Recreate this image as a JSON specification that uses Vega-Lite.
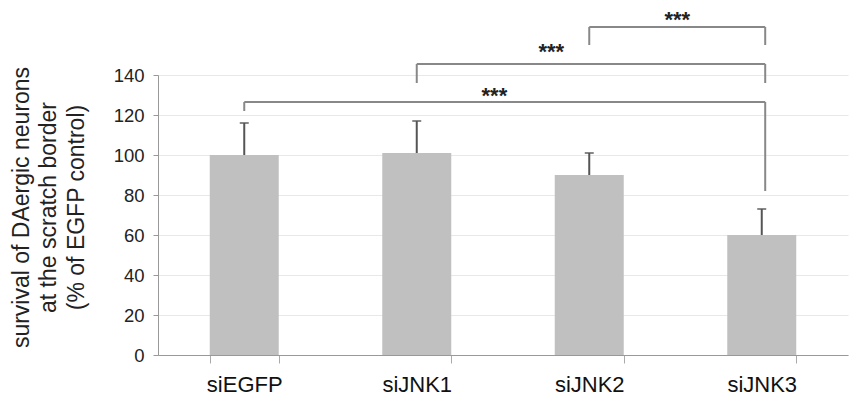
{
  "$schema": "https://vega.github.io/schema/vega-lite/v6.json",
  "width": 690,
  "height": 280,
  "autosize": {"type": "none"},
  "padding": {"left": 158, "top": 75, "right": 1, "bottom": 45},
  "background": "white",
  "config": {"view": {"stroke": null}, "font": "Liberation Sans"},
  "datasets": {
    "bars": [
      {"group": "siEGFP", "value": 100, "upper": 116},
      {"group": "siJNK1", "value": 101, "upper": 117},
      {"group": "siJNK2", "value": 90, "upper": 101},
      {"group": "siJNK3", "value": 60, "upper": 73}
    ],
    "segs": [
      {"x1": 0.5, "x2": 3.52, "y1": 126.5, "y2": 126.5},
      {"x1": 0.5, "x2": 0.5, "y1": 126.5, "y2": 122},
      {"x1": 3.52, "x2": 3.52, "y1": 126.5, "y2": 82},
      {"x1": 1.5, "x2": 3.52, "y1": 145.5, "y2": 145.5},
      {"x1": 1.5, "x2": 1.5, "y1": 145.5, "y2": 136},
      {"x1": 3.52, "x2": 3.52, "y1": 145.5, "y2": 136},
      {"x1": 2.5, "x2": 3.52, "y1": 164, "y2": 164},
      {"x1": 2.5, "x2": 2.5, "y1": 164, "y2": 155},
      {"x1": 3.52, "x2": 3.52, "y1": 164, "y2": 155}
    ],
    "stars": [
      {"x": 1.95, "y": 132, "label": "***"},
      {"x": 2.28, "y": 154, "label": "***"},
      {"x": 3.01, "y": 170, "label": "***"}
    ]
  },
  "encoding": {
    "y": {
      "type": "quantitative",
      "scale": {"domain": [0, 140], "nice": false},
      "axis": {
        "values": [0, 20, 40, 60, 80, 100, 120, 140],
        "tickCount": 10,
        "labelOverlap": false,
        "title": ["survival of DAergic neurons", "at the scratch border", "(% of EGFP control)"],
        "titleFontSize": 23, "titleLineHeight": 27.5, "titleFontWeight": "normal",
        "titleColor": "#222", "titleX": -137, "titleY": 132, "titleAlign": "center",
        "titleBaseline": "middle", "titleAngle": -90,
        "labelFontSize": 18.5, "labelColor": "#222", "labelPadding": 9,
        "tickSize": 5, "tickColor": "#999", "domainColor": "#999",
        "gridColor": "#e8e8e8"
      }
    }
  },
  "layer": [
    {
      "layer": [
        {
          "data": {"name": "bars"},
          "mark": {"type": "bar", "color": "#c0c0c0"},
          "encoding": {
            "x": {
              "field": "group", "type": "nominal", "sort": null,
              "scale": {"paddingInner": 0.6, "paddingOuter": 0.3},
              "axis": {
                "title": null, "labelAngle": 0, "labelFontSize": 22, "labelColor": "#111",
                "labelPadding": 11, "tickBand": "extent", "tickSize": 8, "tickColor": "#aaa",
                "domainColor": "#999", "grid": false
              }
            },
            "y": {"field": "value"}
          }
        },
        {
          "data": {"name": "bars"},
          "mark": {"type": "rule", "color": "#555", "strokeWidth": 2},
          "encoding": {
            "x": {"field": "group", "type": "nominal", "sort": null},
            "y": {"field": "value"},
            "y2": {"field": "upper"}
          }
        },
        {
          "data": {"name": "bars"},
          "mark": {"type": "tick", "color": "#555", "thickness": 2, "size": 9},
          "encoding": {
            "x": {"field": "group", "type": "nominal", "sort": null},
            "y": {"field": "upper"}
          }
        }
      ]
    },
    {
      "layer": [
        {
          "data": {"name": "segs"},
          "mark": {"type": "rule", "color": "#888", "strokeWidth": 2},
          "encoding": {
            "x": {"field": "x1", "type": "quantitative", "scale": {"domain": [0, 4], "nice": false, "zero": false}, "axis": null},
            "x2": {"field": "x2"},
            "y": {"field": "y1"},
            "y2": {"field": "y2"}
          }
        },
        {
          "data": {"name": "stars"},
          "mark": {"type": "text", "fontSize": 22, "fontWeight": "bold", "color": "#222", "baseline": "alphabetic", "align": "center", "dy": 12},
          "encoding": {
            "x": {"field": "x", "type": "quantitative"},
            "y": {"field": "y"},
            "text": {"field": "label"}
          }
        }
      ]
    }
  ],
  "resolve": {"scale": {"x": "independent"}}
}
